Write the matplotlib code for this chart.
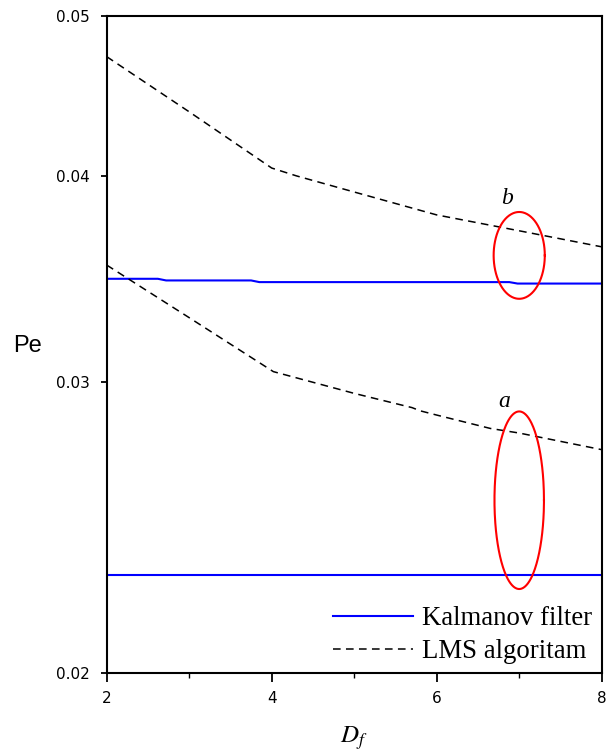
import numpy as np
import matplotlib
matplotlib.use("Agg")
import matplotlib.pyplot as plt
from matplotlib.ticker import FixedLocator, FixedFormatter, NullLocator
from matplotlib.lines import Line2D

matplotlib.rcParams["mathtext.fontset"] = "stix"

# Data
lms_b_x = [2, 3, 4, 4.3, 5, 6, 7, 8]
lms_b_y = [0.04724, 0.04374, 0.04044, 0.0400, 0.03911, 0.03788, 0.03705, 0.03623]

lms_a_x = [2, 3, 4.02, 5, 5.7, 5.8, 6, 6.65, 7, 8]
lms_a_y = [0.03532, 0.03282, 0.03044, 0.02953, 0.02895, 0.02882, 0.02865, 0.02812, 0.02794, 0.0273]

kal_b_x = [2, 2.62, 2.72, 3.75, 3.85, 6.88, 6.98, 8]
kal_b_y = [0.03465, 0.03465, 0.03457, 0.03457, 0.03449, 0.03449, 0.03442, 0.03442]

kal_a_x = [2, 8]
kal_a_y = [0.02292, 0.02292]

# annotation ellipses: (center x, center y, semi-width in x, semi-height in decades)
ell_b = (7.0, 0.0358, 0.31, 0.0263)
ell_a = (7.0, 0.02544, 0.30, 0.0538)

yticks = [0.02, 0.03, 0.04, 0.05]
ytick_labels = ["0.02", "0.03", "0.04", "0.05"]
xticks = [2, 4, 6, 8]
xminor = [3, 5, 7]

fig = plt.figure(figsize=(6.07, 7.53), dpi=100)
ax = fig.add_axes([0.1758, 0.1067, 0.8155, 0.8721])
ax.set_yscale("log")
ax.set_xlim(2, 8)
ax.set_ylim(0.02, 0.05)

dash = (0, (5, 3.5))
ax.plot(kal_b_x, kal_b_y, color="#0000ff", lw=1.5)
ax.plot(kal_a_x, kal_a_y, color="#0000ff", lw=1.5)
ax.plot(lms_b_x, lms_b_y, color="black", lw=1.1, linestyle=dash)
ax.plot(lms_a_x, lms_a_y, color="black", lw=1.1, linestyle=dash)

t = np.linspace(0, 2 * np.pi, 300)
for cx, cy, sx, sl in (ell_b, ell_a):
    ex = cx + sx * np.cos(t)
    ey = 10 ** (np.log10(cy) + sl * np.sin(t))
    ax.plot(ex, ey, color="red", lw=1.5)

ax.text(6.85, 0.03875, "b", fontsize=17, fontstyle="italic", family="Liberation Serif",
        ha="center", va="center")
ax.text(6.82, 0.0292, "a", fontsize=17, fontstyle="italic", family="Liberation Serif",
        ha="center", va="center")

ax.yaxis.set_major_locator(FixedLocator(yticks))
ax.yaxis.set_major_formatter(FixedFormatter(ytick_labels))
ax.yaxis.set_minor_locator(NullLocator())
ax.xaxis.set_major_locator(FixedLocator(xticks))
ax.xaxis.set_minor_locator(FixedLocator(xminor))

for sp in ax.spines.values():
    sp.set_linewidth(1.5)
ax.tick_params(axis="y", which="major", direction="out", length=4.3, width=1.3,
               labelsize=11, pad=8)
ax.tick_params(axis="x", which="major", direction="out", length=6.5, width=1.3,
               labelsize=11, pad=7)
ax.tick_params(axis="x", which="minor", direction="out", length=3.6, width=1.0)
for lab in ax.get_xticklabels() + ax.get_yticklabels():
    lab.set_family("DejaVu Sans")

ax.set_ylabel("Pe", rotation=0, fontsize=17, family="Liberation Sans")
ax.yaxis.set_label_coords(-0.161, 0.481)
ax.set_xlabel(r"$D_f$", fontsize=18)
ax.xaxis.set_label_coords(0.50, -0.078)

handles = [Line2D([], [], color="#0000ff", lw=1.5),
           Line2D([], [], color="black", lw=1.1, linestyle=dash)]
leg = ax.legend(handles, ["Kalmanov filter", "LMS algoritam"], loc="lower right",
                frameon=False, prop={"family": "Liberation Serif", "size": 19.3},
                handlelength=2.98, handletextpad=0.34, labelspacing=0.3,
                borderaxespad=0.2, bbox_to_anchor=(1.014, -0.012))

fig.savefig("out.png", dpi=100)
